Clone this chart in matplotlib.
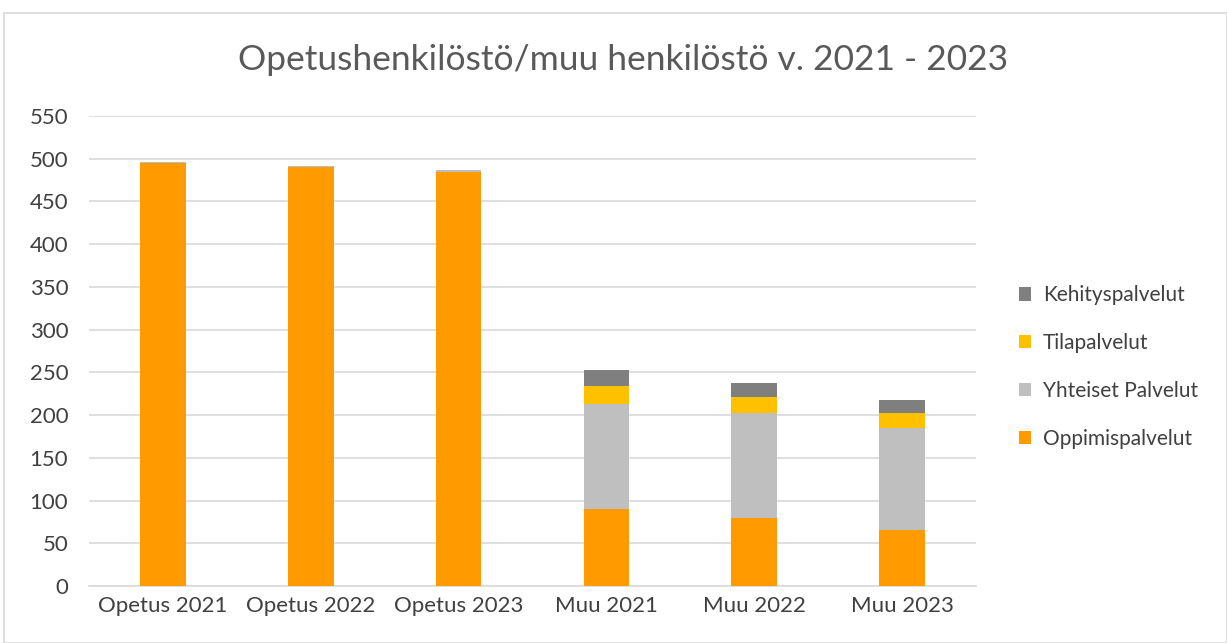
import matplotlib
matplotlib.use("Agg")
import matplotlib.pyplot as plt
import numpy as np
from matplotlib.patches import Rectangle

categories = ["Opetus 2021", "Opetus 2022", "Opetus 2023", "Muu 2021", "Muu 2022", "Muu 2023"]
oppimispalvelut = [495, 490, 484, 90, 79, 66]
yhteiset_palvelut = [1.5, 1, 2.5, 123, 123, 119]
tilapalvelut = [0, 0, 0, 21, 19, 17.5]
kehityspalvelut = [0, 0, 0, 18.5, 17, 15]
y_ticks = [0, 50, 100, 150, 200, 250, 300, 350, 400, 450, 500, 550]

plt.rcParams['font.family'] = ['Lato', 'DejaVu Sans']

fig = plt.figure(figsize=(12.27, 6.43), dpi=100)
W, H = 1227, 643
ax = fig.add_axes([89 / W, 1 - 586 / H, (976 - 89) / W, (586 - 116) / H])

x = np.arange(len(categories))
width = 0.31
series = [
    ("Oppimispalvelut", oppimispalvelut, "#FF9A00"),
    ("Yhteiset Palvelut", yhteiset_palvelut, "#BFBFBF"),
    ("Tilapalvelut", tilapalvelut, "#FFC000"),
    ("Kehityspalvelut", kehityspalvelut, "#7F7F7F"),
]
bottom = np.zeros(len(categories))
handles = []
for name, vals, col in series:
    v = np.array(vals, dtype=float)
    b = ax.bar(x, v, width, bottom=bottom, color=col, label=name, zorder=3)
    handles.append(b)
    bottom += v

ax.set_xlim(-0.5, len(categories) - 0.5)
ax.set_ylim(0, 550)
ax.set_yticks(y_ticks)
ax.set_xticks(x)
ax.set_xticklabels(categories, fontsize=16, color="#404040")
ax.tick_params(axis="y", labelsize=16, labelcolor="#404040", length=0, pad=15)
ax.tick_params(axis="x", length=0, pad=7)
ax.grid(axis="y", color="#D9D9D9", linewidth=1.2, zorder=0)
for s in ["top", "right", "left"]:
    ax.spines[s].set_visible(False)
ax.spines["bottom"].set_color("#D9D9D9")
ax.spines["bottom"].set_linewidth(1.2)

fig.text(623 / W, 1 - 60 / H, "Opetushenkilöstö/muu henkilöstö v. 2021 - 2023",
         ha="center", va="center", fontsize=25.5, color="#595959")

leg = fig.legend(handles[::-1], [s[0] for s in series][::-1], loc="center left",
                 bbox_to_anchor=(1000 / W, 1 - 367 / H), frameon=False, fontsize=15,
                 handlelength=0.6, handleheight=0.6, labelspacing=1.33, handletextpad=0.55)
for t in leg.get_texts():
    t.set_color("#404040")

fig.patches.append(Rectangle((4 / W, 0), 1 - 4 / W, 1 - 13 / H, transform=fig.transFigure,
                             fill=False, edgecolor="#D9D9D9", linewidth=1.2))

fig.savefig("out.png", dpi=100)
